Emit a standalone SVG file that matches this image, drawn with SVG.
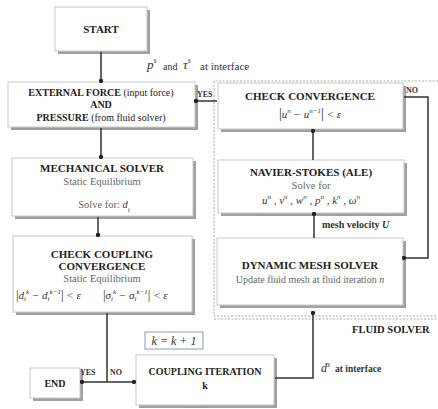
<svg xmlns="http://www.w3.org/2000/svg" width="438" height="409" viewBox="0 0 438 409">
<style>
.sh{fill:#a0a0a0}
.bx{fill:#fff;stroke:#c8c8c8;stroke-width:1}
.t{font-family:"Liberation Serif",serif;font-size:11px;font-weight:bold;fill:#222;text-anchor:middle}
.s{font-family:"Liberation Serif",serif;font-size:10.5px;fill:#666;text-anchor:middle}
.m{font-family:"Liberation Serif",serif;font-size:10.5px;font-style:italic;fill:#333}
.sm{font-family:"Liberation Serif",serif;font-size:8px;font-weight:bold;fill:#333}
.ln{fill:none;stroke:#333;stroke-width:1.5}
.ds{fill:none;stroke:#aaa;stroke-width:1;stroke-dasharray:2,1.5}
</style>
<defs>
<marker id="dot" viewBox="0 0 6 6" refX="3" refY="3" markerWidth="5" markerHeight="5" markerUnits="userSpaceOnUse"><circle cx="3" cy="3" r="2.6" fill="#222"/></marker>
</defs>

<g id="fluid-region">
<path class="ds" d="M438,81 H214 V316 H438"/>
<path class="ds" d="M214,319 H438"/>
<text class="t" x="352" y="333" style="font-size:10.5px;text-anchor:start">FLUID SOLVER</text>
</g>

<g id="start">
<rect class="sh" x="58" y="10" width="92" height="44"/>
<rect class="bx" x="55" y="7" width="92" height="44"/>
<text class="t" x="101" y="33">START</text>
</g>

<g id="external-force">
<rect class="sh" x="11" y="85" width="187" height="45"/>
<rect class="bx" x="8" y="82" width="187" height="45"/>
<text class="t" x="101" y="96" style="font-size:10px">EXTERNAL FORCE <tspan font-weight="normal">(input force)</tspan></text>
<text class="t" x="101" y="108" style="font-size:10px">AND</text>
<text class="t" x="101" y="121" style="font-size:10px">PRESSURE <tspan font-weight="normal">(from fluid solver)</tspan></text>
</g>

<g id="mechanical-solver">
<rect class="sh" x="15" y="161" width="181" height="58"/>
<rect class="bx" x="12" y="158" width="181" height="58"/>
<text class="t" x="102" y="172">MECHANICAL SOLVER</text>
<text class="s" x="102" y="185">Static Equilibrium</text>
<text class="s" x="104" y="208">Solve for: <tspan class="m" style="fill:#333">d<tspan baseline-shift="sub" font-size="7">i</tspan></tspan></text>
</g>

<g id="check-coupling">
<rect class="sh" x="16" y="239" width="179" height="76"/>
<rect class="bx" x="13" y="236" width="179" height="76"/>
<text class="t" x="102" y="258">CHECK COUPLING</text>
<text class="t" x="102" y="270">CONVERGENCE</text>
<text class="s" x="102" y="282">Static Equilibrium</text>
<text class="m" x="16" y="299" style="font-size:11px"><tspan font-style="normal" font-size="13">|</tspan>d<tspan font-size="7" dy="2">i</tspan><tspan font-size="7" dy="-7">k</tspan><tspan dy="5"> − d</tspan><tspan font-size="7" dy="2">i</tspan><tspan font-size="7" dy="-7">k−1</tspan><tspan dy="5" font-style="normal" font-size="13">|</tspan> &lt; ε</text>
<text class="m" x="103" y="299" style="font-size:11px"><tspan font-style="normal" font-size="13">|</tspan>σ<tspan font-size="7" dy="2">i</tspan><tspan font-size="7" dy="-7">k</tspan><tspan dy="5"> − σ</tspan><tspan font-size="7" dy="2">i</tspan><tspan font-size="7" dy="-7">k−1</tspan><tspan dy="5" font-style="normal" font-size="13">|</tspan> &lt; ε</text>
</g>

<g id="end">
<rect class="sh" x="33" y="371" width="50" height="30"/>
<rect class="bx" x="30" y="368" width="50" height="30"/>
<text class="t" x="55" y="387" style="font-size:10px">END</text>
</g>

<g id="k-update">
<rect x="145" y="332" width="58" height="17" fill="#fff" stroke="#8a9ab0" stroke-width="1"/>
<text class="m" x="174" y="345" text-anchor="middle" style="font-size:12px">k = k + 1</text>
</g>

<g id="coupling-iteration">
<rect class="sh" x="139" y="358" width="138" height="50"/>
<rect class="bx" x="136" y="355" width="138" height="50"/>
<text class="t" x="205" y="375" style="font-size:10px">COUPLING ITERATION</text>
<text class="t" x="205" y="389" style="font-size:10px">k</text>
</g>

<g id="check-convergence">
<rect class="sh" x="221" y="86" width="185" height="46"/>
<rect class="bx" x="218" y="83" width="185" height="46"/>
<text class="t" x="310" y="100">CHECK CONVERGENCE</text>
<text class="m" x="310" y="118" text-anchor="middle" style="font-size:11px"><tspan font-style="normal" font-size="14">|</tspan>u<tspan font-size="7" dy="-5">n</tspan><tspan dy="5"> − u</tspan><tspan font-size="7" dy="-5">n−1</tspan><tspan dy="5" font-style="normal" font-size="14">|</tspan> &lt; ε</text>
</g>

<g id="navier-stokes">
<rect class="sh" x="221" y="163" width="186" height="53"/>
<rect class="bx" x="218" y="160" width="186" height="53"/>
<text class="t" x="311" y="176">NAVIER-STOKES (ALE)</text>
<text class="s" x="311" y="189">Solve for</text>
<text class="m" x="311" y="204" text-anchor="middle" style="font-size:11px">u<tspan font-size="7" dy="-5">n</tspan><tspan dy="5"> , v</tspan><tspan font-size="7" dy="-5">n</tspan><tspan dy="5"> , w</tspan><tspan font-size="7" dy="-5">n</tspan><tspan dy="5"> , p</tspan><tspan font-size="7" dy="-5">n</tspan><tspan dy="5"> , k</tspan><tspan font-size="7" dy="-5">n</tspan><tspan dy="5"> , ω</tspan><tspan font-size="7" dy="-5">n</tspan></text>
</g>

<g id="dynamic-mesh">
<rect class="sh" x="220" y="241" width="186" height="67"/>
<rect class="bx" x="217" y="238" width="186" height="67"/>
<text class="t" x="310" y="269">DYNAMIC MESH SOLVER</text>
<text class="s" x="310" y="283" style="font-size:10px">Update fluid mesh at fluid iteration <tspan font-style="italic">n</tspan></text>
</g>

<g id="connectors">
<line class="ln" x1="101" y1="52" x2="101" y2="81" marker-end="url(#dot)"/>
<line class="ln" x1="101" y1="128" x2="101" y2="157" marker-end="url(#dot)"/>
<line class="ln" x1="98" y1="217" x2="98" y2="235" marker-end="url(#dot)"/>
<line class="ln" x1="217" y1="101" x2="196" y2="101" marker-end="url(#dot)"/>
<polyline class="ln" points="404,97 428,97 428,258 404,258" marker-end="url(#dot)"/>
<line class="ln" x1="313" y1="160" x2="313" y2="131" marker-end="url(#dot)"/>
<line class="ln" x1="314" y1="238" x2="314" y2="214" marker-end="url(#dot)"/>
<polyline class="ln" points="275,378 313,378 313,313" marker-end="url(#dot)"/>
<line class="ln" x1="107" y1="313" x2="107" y2="382"/>
<line class="ln" x1="107" y1="382" x2="82" y2="382" marker-end="url(#dot)"/>
<line class="ln" x1="107" y1="382" x2="134" y2="382" marker-end="url(#dot)"/>
<text class="sm" x="80" y="375">YES</text>
<text class="sm" x="110" y="375">NO</text>
<text class="sm" x="197" y="97">YES</text>
<text class="sm" x="406" y="93">NO</text>
<text class="m" x="147" y="69" style="font-size:13px">p<tspan font-size="8" dy="-6">s</tspan></text>
<text class="sm" x="163" y="70" style="font-size:10px;font-weight:normal">and</text>
<text class="m" x="183" y="69" style="font-size:13px">τ<tspan font-size="8" dy="-6">s</tspan></text>
<text class="sm" x="200" y="70" style="font-size:11px;font-weight:normal">at interface</text>
<text class="sm" x="322" y="228" style="font-size:10px">mesh velocity <tspan font-style="italic">U</tspan></text>
<text class="m" x="321" y="372" style="font-size:12px">d<tspan font-size="8" dy="-5">s</tspan></text>
<text class="sm" x="335" y="372" style="font-size:9.5px">at interface</text>
</g>
</svg>
